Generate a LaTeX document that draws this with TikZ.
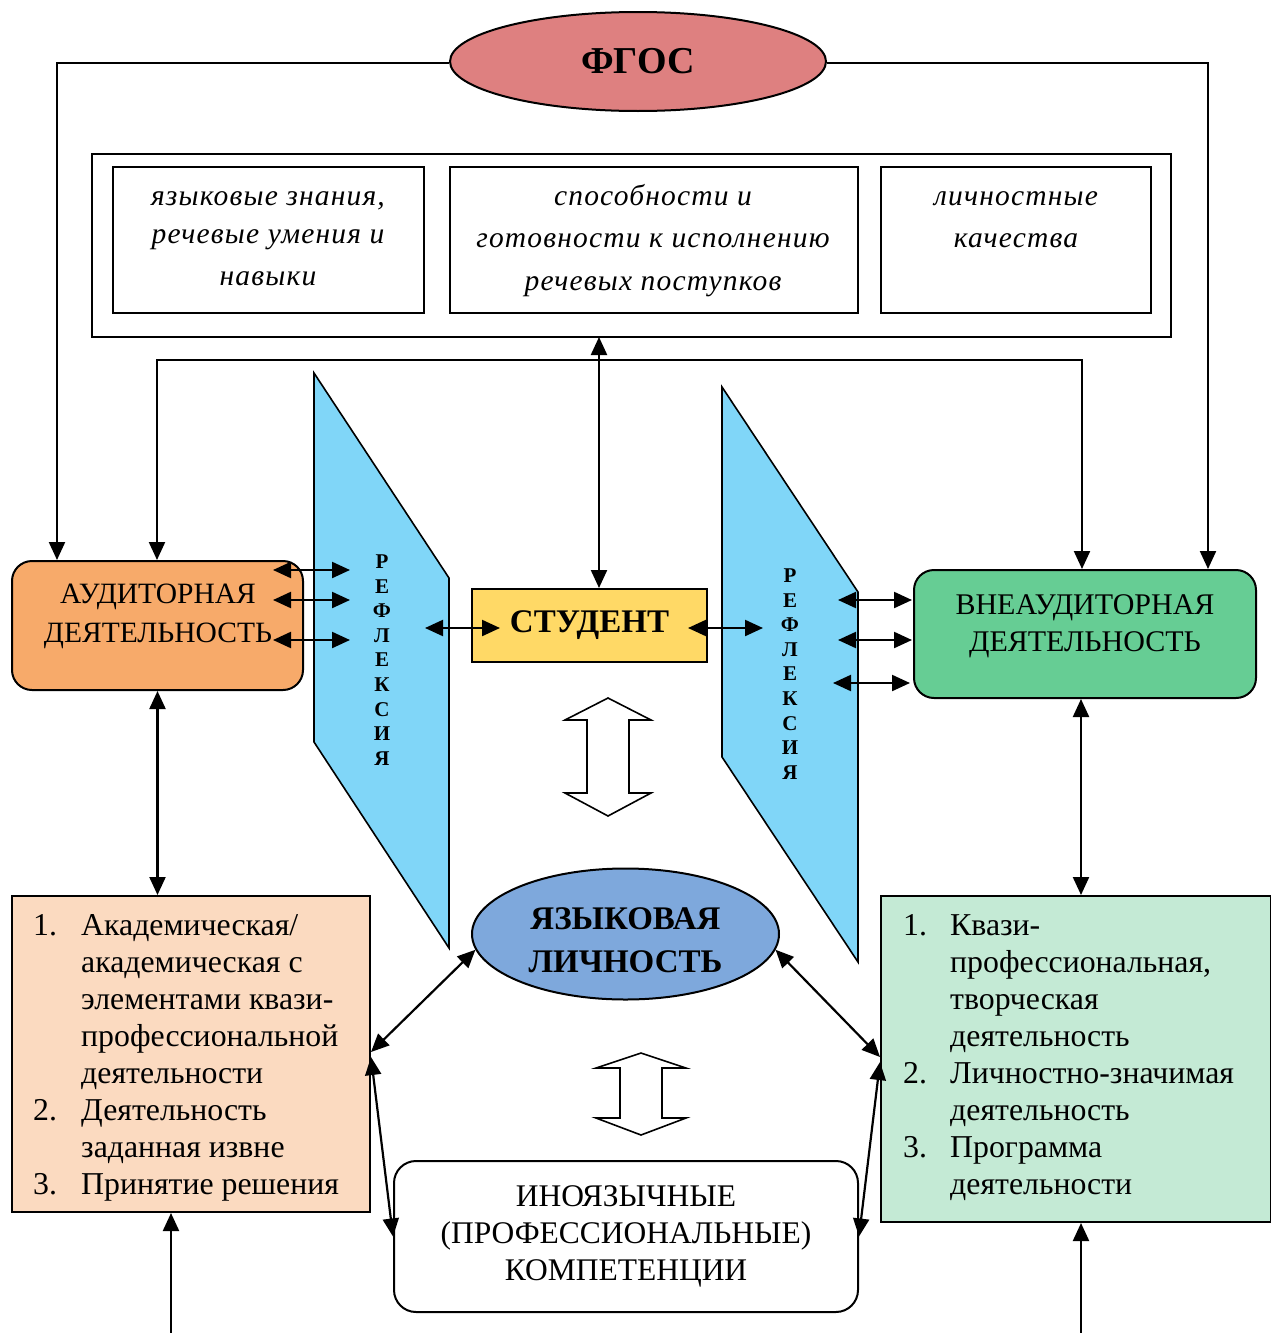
\documentclass[tikz,border=0pt]{standalone}
\usepackage{fontspec}
\setmainfont{Liberation Serif}
\newfontfamily\itsp{Liberation Serif}[LetterSpace=4]
\usetikzlibrary{arrows.meta,shapes.geometric,calc}
\definecolor{fgosc}{RGB}{222,128,128}
\definecolor{audc}{RGB}{247,170,106}
\definecolor{vnec}{RGB}{102,205,148}
\definecolor{stuc}{RGB}{255,217,102}
\definecolor{refc}{RGB}{128,214,248}
\definecolor{lichc}{RGB}{126,168,220}
\definecolor{lboxc}{RGB}{251,218,192}
\definecolor{rboxc}{RGB}{196,234,213}
\begin{document}
\begin{tikzpicture}[x=1pt,y=-1pt,
  box/.style={draw=black,line width=2pt,inner sep=0pt,align=center},
  arr/.style={line width=2.2pt,-{Triangle[length=18pt,width=16pt]}},
  darr/.style={line width=2.2pt,{Triangle[length=18pt,width=16pt]}-{Triangle[length=18pt,width=16pt]}},
  itl/.style={anchor=base,inner sep=0pt,font=\itsp\itshape\fontsize{29.5}{36}\selectfont},
  lt/.style={anchor=base west,inner sep=0pt,font=\fontsize{31.8}{37}\selectfont},
  refl/.style={draw=black,line width=1.6pt,fill=refc},
  hollow/.style={draw=black,line width=1.6pt,fill=white},
  rtxt/.style={align=center,inner sep=0pt,font=\bfseries\fontsize{21}{24.6}\selectfont}]
\useasboundingbox[fill=white] (0,0) rectangle (1270,1333);

% reflection panels
\draw[refl] (314,373) -- (449,578) -- (449,948) -- (314,742) -- cycle;
\draw[refl] (722,387) -- (858,592) -- (858,962) -- (722,757) -- cycle;
\node[rtxt] (refL) at (382,660) {Р\\Е\\Ф\\Л\\Е\\К\\С\\И\\Я};
\node[rtxt] (refR) at (790,674) {Р\\Е\\Ф\\Л\\Е\\К\\С\\И\\Я};

% FGOS
\node[ellipse,draw=black,line width=2pt,fill=fgosc,minimum width=376,minimum height=99,inner sep=0pt,
      font=\bfseries\fontsize{38}{40}\selectfont] (fgos) at (638,61.5) {ФГОС};

% top boxes
\node[box,minimum width=1079,minimum height=183] (outer) at (631.5,245.5) {};
\node[box,minimum width=311,minimum height=146] (b1) at (268.5,240) {};
\node[box,minimum width=408,minimum height=146] (b2) at (654,240) {};
\node[box,minimum width=270,minimum height=146] (b3) at (1016,240) {};
\node[itl] (t11) at (268,205) {языковые знания,};
\node[itl] (t12) at (268,243) {речевые умения и};
\node[itl] (t13) at (268,285) {навыки};
\node[itl] (t21) at (653,205) {способности и};
\node[itl] (t22) at (653,247) {готовности к исполнению};
\node[itl] (t23) at (653,290) {речевых поступков};
\node[itl] (t31) at (1016,205) {личностные};
\node[itl] (t32) at (1016,247) {качества};

% main boxes
\node[box,rounded corners=20,fill=audc,minimum width=291,minimum height=129] (aud) at (157.5,625.5) {};
\node[align=center,inner sep=0pt,font=\fontsize{29.5}{39}\selectfont] (audt) at (158,616) {АУДИТОРНАЯ\\ДЕЯТЕЛЬНОСТЬ};
\node[box,rounded corners=20,fill=vnec,minimum width=342,minimum height=128] (vne) at (1085,634) {};
\node[align=center,inner sep=0pt,font=\fontsize{30}{37}\selectfont] (vnet) at (1085,626) {ВНЕАУДИТОРНАЯ\\ДЕЯТЕЛЬНОСТЬ};
\node[box,fill=stuc,minimum width=235,minimum height=73,font=\bfseries\fontsize{33}{35}\selectfont] (stu) at (589.5,625.5) {СТУДЕНТ};

\node[ellipse,draw=black,line width=2pt,fill=lichc,minimum width=307,minimum height=131,inner sep=0pt,
      align=center,font=\bfseries\fontsize{33}{43}\selectfont] (lich) at (625.5,934) {};
\node[align=center,inner sep=0pt,font=\bfseries\fontsize{33}{43}\selectfont] (licht) at (625.5,940) {ЯЗЫКОВАЯ\\ЛИЧНОСТЬ};

\node[box,fill=lboxc,minimum width=358,minimum height=316] (lbox) at (191,1054) {};
\node[box,fill=rboxc,minimum width=390,minimum height=326] (rbox) at (1076,1059) {};
\node[box,rounded corners=22,fill=white,minimum width=464,minimum height=151,
      font=\fontsize{31.5}{37}\selectfont] (ino) at (626,1236.5) {ИНОЯЗЫЧНЫЕ\\(ПРОФЕССИОНАЛЬНЫЕ)\\КОМПЕТЕНЦИИ};

% list texts
\foreach \t [count=\i from 0] in {Академическая/,академическая с,элементами квази-,профессиональной,деятельности,Деятельность,заданная извне,Принятие решения}
  \node[lt] (ll\i) at (81,{935+37*\i}) {\t};
\node[lt] (ln1) at (33,935) {1.};
\node[lt] (ln2) at (33,1120) {2.};
\node[lt] (ln3) at (33,1194) {3.};
\foreach \t [count=\i from 0] in {Квази-,{профессиональная,},творческая,деятельность,Личностно-значимая,деятельность,Программа,деятельности}
  \node[lt] (rl\i) at (950,{935+37*\i}) {\t};
\node[lt] (rn1) at (903,935) {1.};
\node[lt] (rn2) at (903,1083) {2.};
\node[lt] (rn3) at (903,1157) {3.};

% hollow double arrows
\draw[hollow] (608,698) -- (651,720) -- (629,720) -- (629,793) -- (651,793) -- (608,816) -- (565,793) -- (587,793) -- (587,720) -- (565,720) -- cycle;
\draw[hollow] (641,1053) -- (686,1068) -- (662,1068) -- (662,1118) -- (686,1118) -- (641,1135) -- (596,1118) -- (620,1118) -- (620,1068) -- (596,1068) -- cycle;

% coordinates
\coordinate (fl) at (57,63);
\coordinate (fr) at (1208,63);
\coordinate (hl) at (157,360);
\coordinate (hr) at (1082,360);
\coordinate (sv) at (599,337);
\coordinate (vx) at (1081,0);
\coordinate (bl) at (171,1336);
\coordinate (br) at (1081,1336);
\coordinate (a1) at (273,570); \coordinate (r1) at (350,570);
\coordinate (a2) at (273,600); \coordinate (r2) at (350,600);
\coordinate (a3) at (273,640); \coordinate (r3) at (350,640);
\coordinate (sl) at (425,628); \coordinate (sl2) at (500,628);
\coordinate (sr) at (688,628); \coordinate (sr2) at (763,628);
\coordinate (q1) at (838,600); \coordinate (v1) at (912,600);
\coordinate (q2) at (838,640); \coordinate (v2) at (912,640);
\coordinate (q3) at (833,683); \coordinate (v3) at (910,683);

% connectors
\draw[arr] ([yshift=-1.5pt]fgos.west) -| (fl |- aud.north);
\draw[arr] ([yshift=-1.5pt]fgos.east) -| (fr |- vne.north);
\draw[darr] (hl |- aud.north) -- (hl) -- (hr) -- (hr |- vne.north);
\draw[darr] (sv) -- (sv |- stu.north);
\draw[darr] (a1) -- (r1);
\draw[darr] (a2) -- (r2);
\draw[darr] (a3) -- (r3);
\draw[darr] (sl) -- (sl2);
\draw[darr] (sr) -- (sr2);
\draw[darr] (q1) -- (v1);
\draw[darr] (q2) -- (v2);
\draw[darr] (q3) -- (v3);
\draw[darr] (aud.south) -- (aud.south |- lbox.north);
\draw[darr] (vne.south -| vx) -- (rbox.north -| vx);
\draw[darr] (lich.186) -- ([yshift=2pt]lbox.east);
\draw[darr] ([yshift=-3pt]lbox.east) -- (ino.west);
\draw[darr] (lich.-6) -- ([yshift=2pt]rbox.west);
\draw[darr] ([yshift=-3pt]rbox.west) -- (ino.east);
\draw[arr] (bl) -- (bl |- lbox.south);
\draw[arr] (br) -- (br |- rbox.south);
\end{tikzpicture}
\end{document}
